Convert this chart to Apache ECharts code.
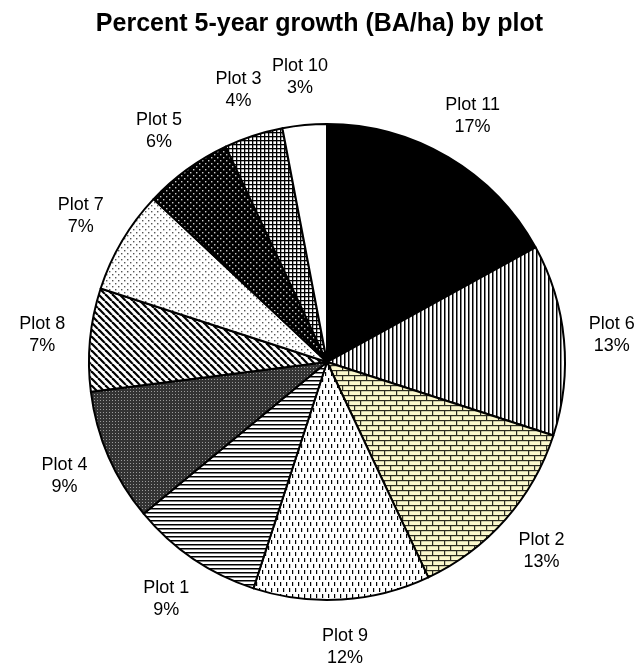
<!DOCTYPE html>
<html lang="en">
  <head>
    <meta charset="UTF-8" />
    <title>Percent 5-year growth (BA/ha) by plot</title>
    <script src="https://cdn.jsdelivr.net/npm/echarts@6/dist/echarts.min.js"></script>
    <style>
      body { margin: 0; background: #fff; }
      #main { width: 639px; height: 666px; }
    </style>
  </head>
  <body>
    <div id="main"></div>
    <script>
      const plots = ["Plot 11", "Plot 6", "Plot 2", "Plot 9", "Plot 1", "Plot 4", "Plot 8", "Plot 7", "Plot 5", "Plot 3", "Plot 10"]
      const percents = [17, 13, 13, 12, 9, 9, 7, 7, 6, 4, 3]

      // small canvas tiles used as fill patterns
      function tile(w, h, draw) {
        const c = document.createElement("canvas")
        c.width = w
        c.height = h
        const g = c.getContext("2d")
        draw(g, w, h)
        return { image: c, repeat: "repeat" }
      }

      const fills = {
        "Plot 11": "#000",
        "Plot 6": tile(4, 4, (g) => {
          g.fillStyle = "#fff"; g.fillRect(0, 0, 4, 4)
          g.fillStyle = "#000"; g.fillRect(0, 0, 1.5, 4)
        }),
        "Plot 2": tile(12, 10, (g) => {
          g.fillStyle = "#fbf8cc"; g.fillRect(0, 0, 12, 10)
          g.fillStyle = "#2a2a20"
          g.fillRect(0, 0, 12, 1.2); g.fillRect(0, 5, 12, 1.2)
          g.fillRect(0, 0, 1.2, 5); g.fillRect(6, 5, 1.2, 5)
        }),
        "Plot 9": tile(6, 12, (g) => {
          g.fillStyle = "#fff"; g.fillRect(0, 0, 6, 12)
          g.fillStyle = "#000"
          g.fillRect(1, 0, 1.2, 4); g.fillRect(4, 6, 1.2, 4)
        }),
        "Plot 1": tile(4, 4, (g) => {
          g.fillStyle = "#fff"; g.fillRect(0, 0, 4, 4)
          g.fillStyle = "#000"; g.fillRect(0, 0, 4, 1.5)
        }),
        "Plot 4": tile(3, 3, (g) => {
          g.fillStyle = "#333"; g.fillRect(0, 0, 3, 3)
          g.fillStyle = "#9a9a9a"; g.fillRect(1, 1, 1, 1)
        }),
        "Plot 8": tile(7, 7, (g) => {
          g.fillStyle = "#fff"; g.fillRect(0, 0, 7, 7)
          g.strokeStyle = "#000"; g.lineWidth = 2.2
          for (let k = -14; k <= 14; k += 7) {
            g.beginPath(); g.moveTo(k, 0); g.lineTo(k + 7, 7); g.stroke()
          }
        }),
        "Plot 7": tile(6, 6, (g) => {
          g.fillStyle = "#fff"; g.fillRect(0, 0, 6, 6)
          g.fillStyle = "#555"
          g.fillRect(1, 1, 1.4, 1.4); g.fillRect(4, 4, 1.4, 1.4)
        }),
        "Plot 5": tile(6, 6, (g) => {
          g.fillStyle = "#000"; g.fillRect(0, 0, 6, 6)
          g.fillStyle = "#ccc"
          g.fillRect(1, 1, 1.4, 1.4); g.fillRect(4, 4, 1.4, 1.4)
        }),
        "Plot 3": tile(4, 4, (g) => {
          g.fillStyle = "#fff"; g.fillRect(0, 0, 4, 4)
          g.fillStyle = "#000"
          g.fillRect(0, 0, 4, 1.3); g.fillRect(0, 0, 1.3, 4)
        }),
        "Plot 10": "#fff",
      }

      const data = plots.map((name, i) => ({
        name: name,
        value: percents[i],
        itemStyle: { color: fills[name] },
      }))

      const chart = echarts.init(document.getElementById("main"))
      chart.setOption({
        animation: false,
        title: {
          text: "Percent 5-year growth (BA/ha) by plot",
          left: "center",
          top: 7,
          textStyle: { fontFamily: "Liberation Sans", fontSize: 25, fontWeight: "bold", color: "#000" },
        },
        series: [
          {
            type: "pie",
            center: [327, 362],
            radius: 238,
            startAngle: 90,
            clockwise: true,
            silent: true,
            data: data,
            itemStyle: { borderColor: "#000", borderWidth: 2 },
            label: { show: false },
            labelLine: { show: false },
          },
          {
            // transparent ring only used to place the labels
            type: "pie",
            center: [327, 362],
            radius: [258, 308],
            startAngle: 90,
            clockwise: true,
            silent: true,
            data: plots.map((name, i) => ({ name: name, value: percents[i] })),
            itemStyle: { color: "rgba(0,0,0,0)", borderWidth: 0 },
            label: {
              show: true,
              position: "inside",
              formatter: "{b}\n{c}%",
              fontFamily: "Liberation Sans",
              fontSize: 18,
              lineHeight: 22,
              color: "#000",
            },
            labelLine: { show: false },
          },
        ],
      })
    </script>
  </body>
</html>
